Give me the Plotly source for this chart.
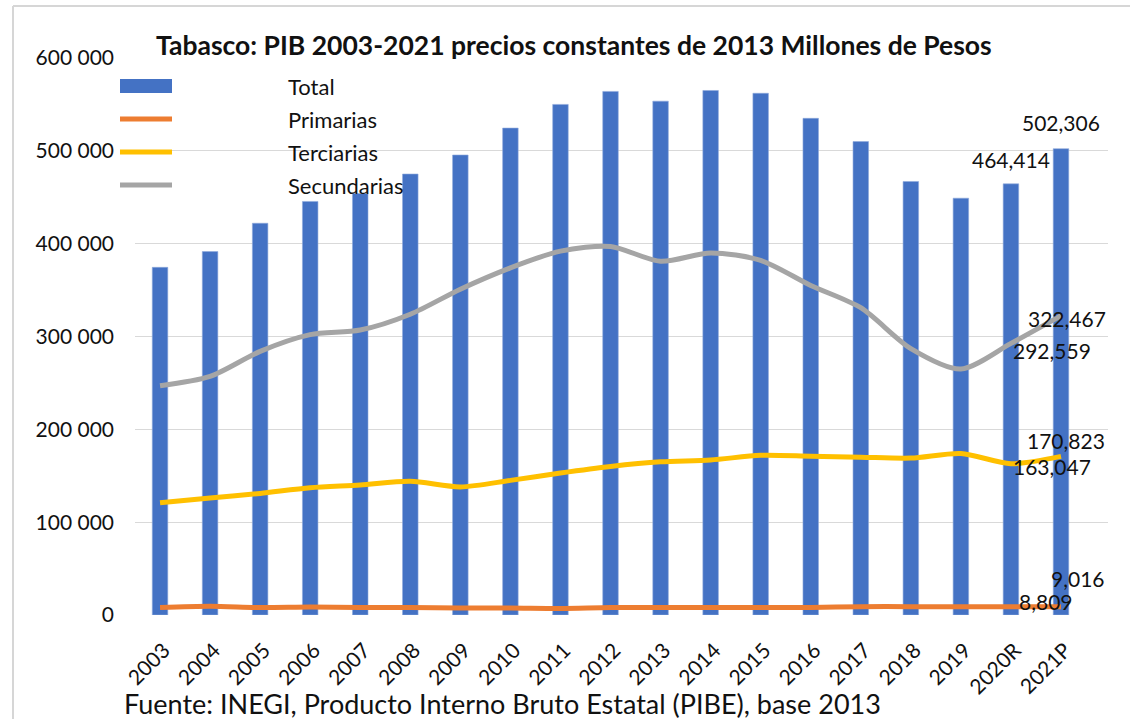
import plotly.graph_objects as go

# Datos (millones de pesos, precios constantes de 2013)
anios = ['2003', '2004', '2005', '2006', '2007', '2008', '2009', '2010', '2011', '2012',
         '2013', '2014', '2015', '2016', '2017', '2018', '2019', '2020R', '2021P']
total = [374500, 391500, 422000, 445500, 454000, 475000, 495500, 524500, 550000, 564000,
         553500, 565000, 562000, 535000, 510000, 467000, 449000, 464414, 502306]
primarias = [8000, 9500, 8000, 8500, 8000, 8000, 7500, 7500, 7000, 8000,
             8000, 8000, 8000, 8000, 9000, 9000, 9000, 8809, 9016]
terciarias = [121000, 126000, 131000, 137000, 140000, 144000, 138000, 145000, 153000, 160000,
              165000, 167000, 172000, 171000, 170000, 169000, 174000, 163047, 170823]
secundarias = [247000, 257000, 284000, 302000, 307000, 324000, 351000, 374000, 392000, 397000,
               381000, 390000, 382000, 355000, 331000, 287000, 265000, 292559, 322467]
y_ticks = [0, 100000, 200000, 300000, 400000, 500000, 600000]

COLORES = {'Total': '#4472C4', 'Primarias': '#ED7D31',
           'Terciarias': '#FFC000', 'Secundarias': '#A5A5A5'}
FUENTE = 'Lato, Arial, sans-serif'
TEXTO = '#111111'

# geometría del área de trazado (px)
L, R, T, B = 135, 1108, 58, 615
W, H = R - L, B - T


def px_x(px):
    return (px - L) / W


def px_y(py):
    return (B - py) / H


fig = go.Figure()
fig.add_trace(go.Bar(x=anios, y=total, name='Total', marker_color=COLORES['Total'],
                     marker_line=dict(color='#8FAADC', width=0.6)))
for nombre, serie in [('Primarias', primarias), ('Terciarias', terciarias),
                      ('Secundarias', secundarias)]:
    fig.add_trace(go.Scatter(x=anios, y=serie, name=nombre, mode='lines',
                             line=dict(color=COLORES[nombre], width=5, shape='spline',
                                       smoothing=0.8)))

# etiquetas de datos (2020R y 2021P)
etiquetas = [
    (total, 17, 'center', 0, 24), (total, 18, 'center', 0, 26),
    (secundarias, 17, 'left', 0, -7), (secundarias, 18, 'center', 6, -3),
    (terciarias, 17, 'left', 0, -3), (terciarias, 18, 'center', 5, 16),
    (primarias, 17, 'left', 6, 5), (primarias, 18, 'center', 17, 28),
]
annotations = []
for serie, i, xa, dx, dy in etiquetas:
    annotations.append(dict(x=anios[i], y=serie[i], text=f'{serie[i]:,}', showarrow=False,
                            xanchor=xa, yanchor='middle', xshift=dx, yshift=dy,
                            font=dict(size=21, color=TEXTO)))

# leyenda dibujada a mano (estilo Excel)
shapes = []
leyenda = [('Total', 86), ('Primarias', 119), ('Terciarias', 152), ('Secundarias', 185)]
for nombre, py in leyenda:
    if nombre == 'Total':
        shapes.append(dict(type='rect', xref='paper', yref='paper',
                           x0=px_x(120), x1=px_x(172), y0=px_y(py + 7), y1=px_y(py - 7),
                           fillcolor=COLORES[nombre], line=dict(width=0)))
    else:
        shapes.append(dict(type='line', xref='paper', yref='paper',
                           x0=px_x(120), x1=px_x(172), y0=px_y(py), y1=px_y(py),
                           line=dict(color=COLORES[nombre], width=5)))
    annotations.append(dict(xref='paper', yref='paper', x=px_x(286), y=px_y(py),
                            text=nombre, showarrow=False, xanchor='left', yanchor='middle',
                            font=dict(size=22, color=TEXTO)))

# marco exterior (solo bordes superior e izquierdo quedan dentro de la imagen)
marco = dict(color='#D6D6D6', width=2)
shapes.append(dict(type='line', xref='paper', yref='paper',
                   x0=px_x(13), x1=px_x(1130), y0=px_y(6), y1=px_y(6), line=marco))
shapes.append(dict(type='line', xref='paper', yref='paper',
                   x0=px_x(13), x1=px_x(13), y0=px_y(6), y1=px_y(719), line=marco))

# título y fuente
annotations.append(dict(xref='paper', yref='paper', x=px_x(574), y=px_y(45),
                        text='<b>Tabasco: PIB 2003-2021 precios constantes de 2013 Millones de Pesos</b>',
                        showarrow=False, xanchor='center', yanchor='middle',
                        font=dict(size=26.5, color=TEXTO)))
annotations.append(dict(xref='paper', yref='paper', x=px_x(122), y=px_y(703),
                        text='Fuente: INEGI, Producto Interno Bruto Estatal (PIBE), base 2013',
                        showarrow=False, xanchor='left', yanchor='middle',
                        font=dict(size=27, color=TEXTO)))

fig.update_layout(
    width=1130, height=719,
    paper_bgcolor='#ffffff', plot_bgcolor='#ffffff',
    font=dict(family=FUENTE, color=TEXTO, size=20),
    margin=dict(l=L, r=1130 - R, t=T, b=719 - B, autoexpand=False),
    showlegend=False,
    bargap=0.69,
    separators='. ',
    annotations=annotations,
    shapes=shapes,
    xaxis=dict(tickangle=-45, tickfont=dict(size=21), showgrid=False, showline=False,
               ticks='', ticklabelstandoff=18, ticklabelshift=4),
    yaxis=dict(range=[0, 600000], tickvals=y_ticks, tickformat=',d',
               tickfont=dict(size=21), gridcolor='#D9D9D9', gridwidth=1,
               zeroline=False, showline=False, ticklabelstandoff=20),
)

fig.write_html('out.html', config={'displayModeBar': False},
               post_script="document.body.style.margin='0';document.body.style.overflow='hidden';")
